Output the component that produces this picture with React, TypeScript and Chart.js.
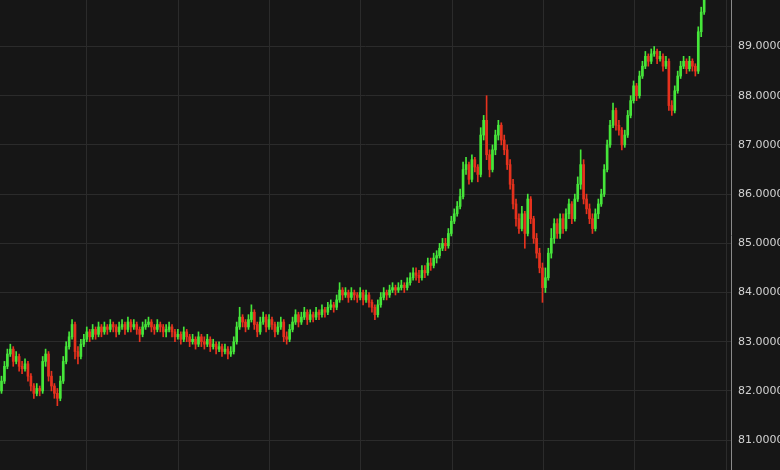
import React, { useEffect, useRef } from "react";
import { Chart, registerables } from "chart.js";

Chart.register(...registerables);

const opens = [
  82.0, 82.2, 82.5, 82.75, 82.85, 82.6, 82.7, 82.5, 82.45, 82.55,
  82.3, 82.1, 81.95, 82.05, 82.0, 82.6, 82.75, 82.3, 82.1, 81.95,
  81.85, 82.2, 82.6, 82.9, 83.1, 83.35, 82.8, 82.7, 82.95, 83.05,
  83.2, 83.1, 83.25, 83.15, 83.3, 83.2, 83.3, 83.25, 83.35, 83.3,
  83.2, 83.3, 83.35, 83.25, 83.4, 83.3, 83.35, 83.25, 83.15, 83.3,
  83.35, 83.4, 83.3, 83.25, 83.35, 83.3, 83.2, 83.25, 83.3, 83.2,
  83.1, 83.15, 83.05, 83.2, 83.1, 83.0, 83.05, 82.95, 83.1, 83.0,
  82.95, 83.05, 82.9, 82.95, 82.85, 82.9, 82.8, 82.85, 82.75, 82.8,
  83.0, 83.3, 83.5, 83.4, 83.3, 83.45, 83.6, 83.35, 83.2, 83.4,
  83.5, 83.3, 83.45, 83.35, 83.2, 83.3, 83.4, 83.1, 83.05, 83.25,
  83.4, 83.55, 83.4, 83.5, 83.6, 83.45, 83.55, 83.5, 83.6, 83.55,
  83.65, 83.6, 83.7, 83.75, 83.7, 83.85, 84.05, 83.95, 84.0, 83.9,
  84.0, 83.95, 83.9, 84.0, 83.85, 83.95, 83.8, 83.7, 83.55, 83.75,
  83.9, 84.0, 83.95, 84.05, 84.1, 84.05, 84.1, 84.15, 84.1, 84.2,
  84.3, 84.4, 84.35, 84.3, 84.45, 84.4, 84.6, 84.55, 84.7, 84.75,
  84.9, 85.0, 84.95, 85.2, 85.45, 85.6, 85.75, 85.95, 86.5, 86.6,
  86.3, 86.7, 86.55, 86.4, 87.2, 87.5, 86.8, 86.5, 86.9, 87.2,
  87.4, 87.1, 86.9, 86.6, 86.2, 85.8, 85.5, 85.3, 85.6, 85.2,
  85.9, 85.5, 85.1, 84.8, 84.5, 84.1, 84.3, 84.8, 85.1, 85.4,
  85.2, 85.5, 85.3, 85.6, 85.8, 85.5, 85.9, 86.2, 86.6, 85.9,
  85.7, 85.5, 85.3, 85.6, 85.8, 86.0, 86.5, 87.0, 87.4, 87.7,
  87.4, 87.3, 87.0, 87.2, 87.6, 87.9, 88.2, 88.0, 88.4, 88.6,
  88.8, 88.7, 88.85, 88.9, 88.75, 88.8, 88.6, 88.7, 87.8, 87.7,
  88.1, 88.4, 88.6, 88.7, 88.55, 88.7, 88.6, 88.5, 89.3, 89.7,
];

const highs = [
  82.3, 82.6, 82.85, 82.95, 82.9, 82.8, 82.75, 82.6, 82.65, 82.6,
  82.35, 82.15, 82.15, 82.1, 82.7, 82.85, 82.8, 82.4, 82.15, 82.05,
  82.3, 82.7, 83.0, 83.2, 83.45, 83.4, 82.9, 83.05, 83.15, 83.3,
  83.25, 83.35, 83.3, 83.4, 83.35, 83.4, 83.35, 83.45, 83.4, 83.35,
  83.4, 83.45, 83.4, 83.5, 83.45, 83.45, 83.4, 83.3, 83.4, 83.45,
  83.5, 83.45, 83.35, 83.45, 83.4, 83.35, 83.35, 83.4, 83.35, 83.25,
  83.25, 83.2, 83.3, 83.25, 83.15, 83.15, 83.1, 83.2, 83.15, 83.1,
  83.15, 83.1, 83.05, 83.0, 83.0, 82.95, 82.95, 82.9, 82.9, 83.1,
  83.4, 83.7, 83.55, 83.45, 83.55, 83.75, 83.65, 83.4, 83.5, 83.6,
  83.55, 83.55, 83.5, 83.4, 83.4, 83.5, 83.45, 83.2, 83.35, 83.5,
  83.65, 83.6, 83.6, 83.7, 83.65, 83.65, 83.6, 83.7, 83.65, 83.75,
  83.7, 83.8, 83.85, 83.8, 83.95, 84.2, 84.1, 84.1, 84.05, 84.1,
  84.05, 84.0, 84.1, 84.05, 84.05, 84.0, 83.85, 83.75, 83.85, 84.0,
  84.1, 84.05, 84.15, 84.2, 84.15, 84.2, 84.25, 84.2, 84.3, 84.4,
  84.5, 84.5, 84.45, 84.55, 84.55, 84.7, 84.7, 84.8, 84.85, 85.0,
  85.1, 85.1, 85.3, 85.55, 85.7, 85.85, 86.1, 86.65, 86.75, 86.65,
  86.8, 86.75, 86.6, 87.35, 87.6, 88.0, 86.9, 87.0, 87.3, 87.5,
  87.45, 87.2, 87.0, 86.7, 86.3, 85.9, 85.6, 85.75, 85.65, 86.0,
  85.95, 85.55, 85.2, 84.9, 84.6, 84.5, 84.9, 85.3, 85.5, 85.5,
  85.6, 85.6, 85.7, 85.9, 85.85, 86.0, 86.35, 86.9, 86.7, 86.0,
  85.8, 85.6, 85.7, 85.9, 86.1, 86.6, 87.1, 87.5, 87.85, 87.75,
  87.5, 87.35, 87.3, 87.7, 88.0, 88.3, 88.25, 88.5, 88.7, 88.9,
  88.85, 88.95, 89.0, 88.95, 88.9, 88.85, 88.8, 88.75, 87.9, 88.2,
  88.5, 88.7, 88.8, 88.75, 88.8, 88.75, 88.65, 89.4, 89.8, 90.2,
];

const lows = [
  81.95, 82.15, 82.45, 82.7, 82.5, 82.55, 82.4, 82.35, 82.4, 82.2,
  82.0, 81.85, 81.9, 81.9, 81.95, 82.5, 82.2, 82.0, 81.85, 81.7,
  81.8, 82.15, 82.55, 82.85, 83.05, 82.65, 82.55, 82.65, 82.9, 83.0,
  83.0, 83.05, 83.05, 83.1, 83.1, 83.15, 83.15, 83.2, 83.2, 83.1,
  83.15, 83.25, 83.15, 83.2, 83.2, 83.25, 83.15, 83.0, 83.1, 83.25,
  83.3, 83.2, 83.15, 83.2, 83.2, 83.1, 83.1, 83.2, 83.1, 83.0,
  83.05, 82.95, 83.0, 83.0, 82.9, 82.95, 82.85, 82.9, 82.9, 82.85,
  82.9, 82.8, 82.85, 82.75, 82.8, 82.7, 82.75, 82.65, 82.7, 82.75,
  82.95, 83.25, 83.3, 83.2, 83.25, 83.4, 83.25, 83.1, 83.15, 83.35,
  83.2, 83.25, 83.25, 83.1, 83.15, 83.25, 83.0, 82.95, 83.0, 83.2,
  83.35, 83.3, 83.35, 83.45, 83.35, 83.4, 83.4, 83.45, 83.45, 83.5,
  83.5, 83.55, 83.65, 83.6, 83.65, 83.8, 83.85, 83.9, 83.8, 83.85,
  83.85, 83.8, 83.85, 83.75, 83.8, 83.7, 83.6, 83.45, 83.5, 83.7,
  83.85, 83.85, 83.9, 84.0, 83.95, 84.0, 84.05, 84.0, 84.05, 84.15,
  84.25, 84.25, 84.2, 84.25, 84.3, 84.35, 84.45, 84.5, 84.6, 84.7,
  84.85, 84.85, 84.9, 85.15, 85.4, 85.55, 85.7, 85.9, 86.4, 86.2,
  86.25, 86.45, 86.25, 86.35, 87.1, 86.7, 86.35, 86.45, 86.8, 87.1,
  87.0, 86.8, 86.5, 86.1, 85.7, 85.35, 85.2, 85.25, 84.9, 85.15,
  85.4, 85.0, 84.7, 84.4, 83.8, 84.0, 84.25, 84.7, 85.0, 85.1,
  85.1, 85.2, 85.25, 85.5, 85.4, 85.45, 85.85, 86.1, 85.8, 85.6,
  85.4, 85.2, 85.25, 85.5, 85.75, 85.95, 86.45, 86.95, 87.35, 87.3,
  87.2, 86.9, 86.95, 87.15, 87.55, 87.85, 87.9, 87.95, 88.35, 88.55,
  88.6, 88.65, 88.8, 88.65, 88.7, 88.5, 88.55, 87.7, 87.6, 87.65,
  88.05, 88.35, 88.55, 88.45, 88.5, 88.5, 88.4, 88.45, 89.2, 89.65,
];

const closes = [
  82.2, 82.5, 82.75, 82.85, 82.6, 82.7, 82.5, 82.45, 82.55, 82.3,
  82.1, 81.95, 82.05, 82.0, 82.6, 82.75, 82.3, 82.1, 81.95, 81.85,
  82.2, 82.6, 82.9, 83.1, 83.35, 82.8, 82.7, 82.95, 83.05, 83.2,
  83.1, 83.25, 83.15, 83.3, 83.2, 83.3, 83.25, 83.35, 83.3, 83.2,
  83.3, 83.35, 83.25, 83.4, 83.3, 83.35, 83.25, 83.15, 83.3, 83.35,
  83.4, 83.3, 83.25, 83.35, 83.3, 83.2, 83.25, 83.3, 83.2, 83.1,
  83.15, 83.05, 83.2, 83.1, 83.0, 83.05, 82.95, 83.1, 83.0, 82.95,
  83.05, 82.9, 82.95, 82.85, 82.9, 82.8, 82.85, 82.75, 82.8, 83.0,
  83.3, 83.5, 83.4, 83.3, 83.45, 83.6, 83.35, 83.2, 83.4, 83.5,
  83.3, 83.45, 83.35, 83.2, 83.3, 83.4, 83.1, 83.05, 83.25, 83.4,
  83.55, 83.4, 83.5, 83.6, 83.45, 83.55, 83.5, 83.6, 83.55, 83.65,
  83.6, 83.7, 83.75, 83.7, 83.85, 84.05, 83.95, 84.0, 83.9, 84.0,
  83.95, 83.9, 84.0, 83.85, 83.95, 83.8, 83.7, 83.55, 83.75, 83.9,
  84.0, 83.95, 84.05, 84.1, 84.05, 84.1, 84.15, 84.1, 84.2, 84.3,
  84.4, 84.35, 84.3, 84.45, 84.4, 84.6, 84.55, 84.7, 84.75, 84.9,
  85.0, 84.95, 85.2, 85.45, 85.6, 85.75, 85.95, 86.5, 86.6, 86.3,
  86.7, 86.55, 86.4, 87.2, 87.5, 86.8, 86.5, 86.9, 87.2, 87.4,
  87.1, 86.9, 86.6, 86.2, 85.8, 85.5, 85.3, 85.6, 85.2, 85.9,
  85.5, 85.1, 84.8, 84.5, 84.1, 84.3, 84.8, 85.1, 85.4, 85.2,
  85.5, 85.3, 85.6, 85.8, 85.5, 85.9, 86.2, 86.6, 85.9, 85.7,
  85.5, 85.3, 85.6, 85.8, 86.0, 86.5, 87.0, 87.4, 87.7, 87.4,
  87.3, 87.0, 87.2, 87.6, 87.9, 88.2, 88.0, 88.4, 88.6, 88.8,
  88.7, 88.85, 88.9, 88.75, 88.8, 88.6, 88.7, 87.8, 87.7, 88.1,
  88.4, 88.6, 88.7, 88.55, 88.7, 88.6, 88.5, 89.3, 89.7, 90.0,
];

const Y_MIN = 79.783;
const Y_MAX = 90.555;
const Y_STEP = 1;
const X_MIN = -0.51;
const X_MAX = 248.13;
const X_GRID_START = 29.08;
const X_GRID_STEP = 31.05;
const X_GRID_COUNT = 8;

const GREEN = "#46e63a";
const RED = "#e6321e";
const BG = "#161616";
const GRID = "#2b2b2b";

export default function App() {
  const ref = useRef<HTMLCanvasElement>(null);

  useEffect(() => {
    const idx = closes.map((_, i) => i);
    const colors = idx.map((i) => (closes[i] >= opens[i] ? GREEN : RED));
    const gridTicks = Array.from({ length: X_GRID_COUNT }, (_, k) => X_GRID_START + k * X_GRID_STEP);

    const chart = new Chart(ref.current!, {
      type: "bar",
      data: {
        datasets: [
          {
            data: idx.map((i) => ({ x: i, y: [lows[i], highs[i]] })) as any,
            backgroundColor: colors,
            barThickness: 1,
            grouped: false,
          } as any,
          {
            data: idx.map((i) => ({
              x: i,
              y: [Math.min(opens[i], closes[i]), Math.max(opens[i], closes[i])],
            })) as any,
            backgroundColor: colors,
            barThickness: 2,
            grouped: false,
            minBarLength: 1,
          } as any,
        ],
      },
      options: {
        animation: false,
        responsive: false,
        layout: { padding: 0 },
        plugins: { legend: { display: false }, tooltip: { enabled: false } },
        scales: {
          x: {
            type: "linear",
            min: X_MIN,
            max: X_MAX,
            offset: false,
            ticks: { display: false },
            grid: { color: GRID, drawTicks: false, offset: false },
            border: { display: false },
            afterBuildTicks: (s: any) => {
              s.ticks = gridTicks.map((v) => ({ value: v }));
            },
          } as any,
          y: {
            type: "linear",
            position: "right",
            min: Y_MIN,
            max: Y_MAX,
            ticks: {
              stepSize: Y_STEP,
              includeBounds: false,
              padding: 7,
              color: "#d2d2d2",
              font: { family: "'DejaVu Sans', sans-serif", size: 11 },
              callback: (v: any) => Number(v).toFixed(4),
            },
            grid: { color: GRID, drawTicks: false },
            border: { display: true, color: "#8a8a8a", width: 1 },
            afterFit: (s: any) => {
              s.width = 49;
              s.paddingTop = 0;
              s.paddingBottom = 0;
            },
          } as any,
        },
      },
    });
    return () => chart.destroy();
  }, []);

  return (
    <div
      style={{
        position: "fixed",
        left: 0,
        top: 0,
        width: 780,
        height: 470,
        overflow: "hidden",
        background: BG,
      }}
    >
      <canvas
        ref={ref}
        width={780}
        height={530}
        style={{ position: "absolute", left: 0, top: -30, width: 780, height: 530 }}
      />
    </div>
  );
}
